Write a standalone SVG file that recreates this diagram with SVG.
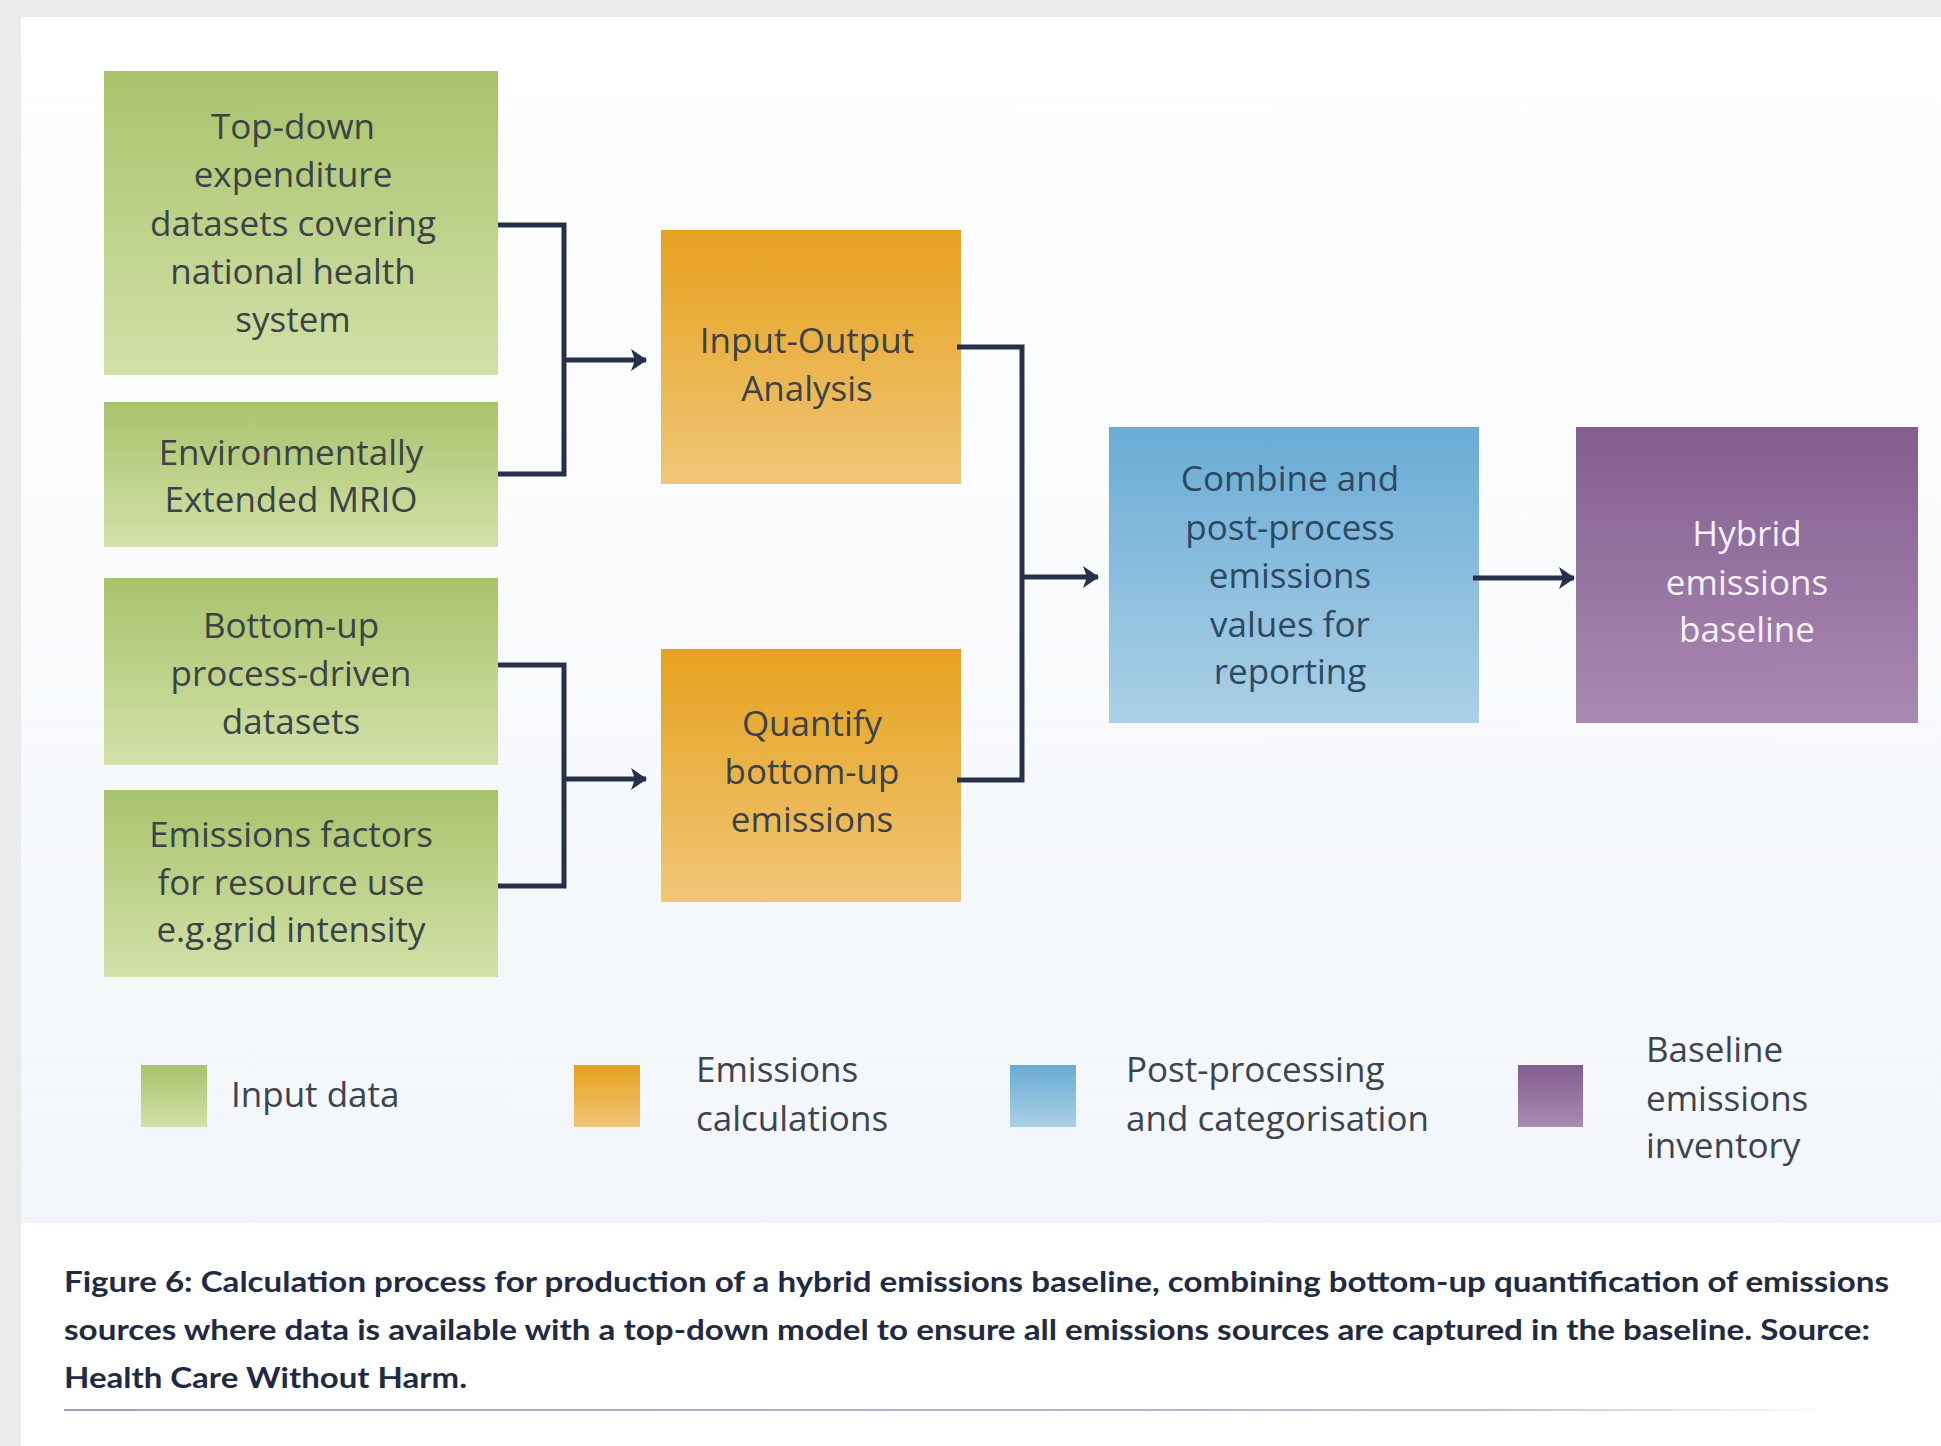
<svg xmlns="http://www.w3.org/2000/svg" width="1941" height="1446" viewBox="0 0 1941 1446">
  <defs>
    <linearGradient id="gGreen" x1="0" y1="0" x2="0" y2="1">
      <stop offset="0" stop-color="#a8c36c"/>
      <stop offset="1" stop-color="#d3e0a8"/>
    </linearGradient>
    <linearGradient id="gOrange" x1="0" y1="0" x2="0" y2="1">
      <stop offset="0" stop-color="#e6a11e"/>
      <stop offset="1" stop-color="#efc677"/>
    </linearGradient>
    <linearGradient id="gBlue" x1="0" y1="0" x2="0" y2="1">
      <stop offset="0" stop-color="#69acd5"/>
      <stop offset="1" stop-color="#abd0e6"/>
    </linearGradient>
    <linearGradient id="gPurple" x1="0" y1="0" x2="0" y2="1">
      <stop offset="0" stop-color="#845d91"/>
      <stop offset="1" stop-color="#a98ab2"/>
    </linearGradient>
    <linearGradient id="gPanel" x1="0" y1="0" x2="0" y2="1">
      <stop offset="0" stop-color="#ffffff"/>
      <stop offset="1" stop-color="#f2f6fa"/>
    </linearGradient>
    <linearGradient id="gRule" x1="0" y1="0" x2="1" y2="0">
      <stop offset="0" stop-color="#9aa6bc"/>
      <stop offset="0.8" stop-color="#b8c1d2"/>
      <stop offset="1" stop-color="#ffffff"/>
    </linearGradient>
    <!-- notched arrowhead, tip sits on the path end -->
    <marker id="arrow" viewBox="0 0 16 22" refX="15" refY="11" markerWidth="16" markerHeight="22" orient="auto" markerUnits="userSpaceOnUse">
      <path d="M0,0 L16,11 L0,22 L4,11 Z" fill="#27304a"/>
    </marker>
  </defs>
  <style>
    .box text { font-family: "Open Sans", "Liberation Sans", sans-serif; font-size: 35px; text-anchor: middle; dominant-baseline: central; }
    .dark text { fill: #3b4347; }
    .navy text { fill: #2e4862; }
    .light text { fill: #f6f0f7; }
    .conn { fill: none; stroke: #27304a; stroke-width: 5; }
    .legend text { font-family: "Open Sans", "Liberation Sans", sans-serif; font-size: 35px; fill: #3d4450; dominant-baseline: central; }
    .caption { font-family: "Lato", "Liberation Sans", sans-serif; font-size: 29px; font-weight: bold; fill: #1f2a44; }
  </style>

  <!-- page backdrop and card -->
  <rect x="0" y="0" width="1941" height="1446" fill="#ebebeb"/>
  <rect x="21" y="17" width="1920" height="1429" fill="#ffffff"/>
  <rect x="21" y="17" width="1920" height="1206" fill="url(#gPanel)"/>

  <!-- input data nodes -->
  <g id="node-topdown" class="box dark">
    <rect x="104" y="71" width="394" height="304" fill="url(#gGreen)"/>
    <text x="293" y="125">Top-down</text>
    <text x="293" y="173">expenditure</text>
    <text x="293" y="222">datasets covering</text>
    <text x="293" y="270">national health</text>
    <text x="293" y="318">system</text>
  </g>
  <g id="node-mrio" class="box dark">
    <rect x="104" y="402" width="394" height="145" fill="url(#gGreen)"/>
    <text x="291" y="451">Environmentally</text>
    <text x="291" y="498">Extended MRIO</text>
  </g>
  <g id="node-bottomup" class="box dark">
    <rect x="104" y="578" width="394" height="187" fill="url(#gGreen)"/>
    <text x="291" y="624">Bottom-up</text>
    <text x="291" y="672">process-driven</text>
    <text x="291" y="720">datasets</text>
  </g>
  <g id="node-factors" class="box dark">
    <rect x="104" y="790" width="394" height="187" fill="url(#gGreen)"/>
    <text x="291" y="833">Emissions factors</text>
    <text x="291" y="881">for resource use</text>
    <text x="291" y="928">e.g.grid intensity</text>
  </g>

  <!-- calculation nodes -->
  <g id="node-io" class="box dark">
    <rect x="661" y="230" width="300" height="254" fill="url(#gOrange)"/>
    <text x="807" y="339">Input-Output</text>
    <text x="807" y="387">Analysis</text>
  </g>
  <g id="node-quantify" class="box dark">
    <rect x="661" y="649" width="300" height="253" fill="url(#gOrange)"/>
    <text x="812" y="722">Quantify</text>
    <text x="812" y="770">bottom-up</text>
    <text x="812" y="818">emissions</text>
  </g>

  <!-- post-processing node -->
  <g id="node-combine" class="box navy">
    <rect x="1109" y="427" width="370" height="296" fill="url(#gBlue)"/>
    <text x="1290" y="477">Combine and</text>
    <text x="1290" y="526">post-process</text>
    <text x="1290" y="574">emissions</text>
    <text x="1290" y="623">values for</text>
    <text x="1290" y="670">reporting</text>
  </g>

  <!-- baseline node -->
  <g id="node-baseline" class="box light">
    <rect x="1576" y="427" width="342" height="296" fill="url(#gPurple)"/>
    <text x="1747" y="532">Hybrid</text>
    <text x="1747" y="581">emissions</text>
    <text x="1747" y="628">baseline</text>
  </g>

  <!-- connectors -->
  <g id="connectors">
    <path class="conn" d="M498,225 H564 V474 H498"/>
    <path class="conn" d="M564,360 H646" marker-end="url(#arrow)"/>
    <path class="conn" d="M498,665 H564 V886 H498"/>
    <path class="conn" d="M564,779 H646" marker-end="url(#arrow)"/>
    <path class="conn" d="M957,347 H1022 V780 H957"/>
    <path class="conn" d="M1022,577 H1098" marker-end="url(#arrow)"/>
    <path class="conn" d="M1473,578 H1574" marker-end="url(#arrow)"/>
  </g>

  <!-- legend -->
  <g id="legend" class="legend">
    <rect x="141" y="1065" width="66" height="62" fill="url(#gGreen)"/>
    <text x="231" y="1093">Input data</text>
    <rect x="574" y="1065" width="66" height="62" fill="url(#gOrange)"/>
    <text x="696" y="1068">Emissions</text>
    <text x="696" y="1117">calculations</text>
    <rect x="1010" y="1065" width="66" height="62" fill="url(#gBlue)"/>
    <text x="1126" y="1068">Post-processing</text>
    <text x="1126" y="1117">and categorisation</text>
    <rect x="1518" y="1065" width="65" height="62" fill="url(#gPurple)"/>
    <text x="1646" y="1048">Baseline</text>
    <text x="1646" y="1097">emissions</text>
    <text x="1646" y="1144">inventory</text>
  </g>

  <!-- caption -->
  <g id="caption">
    <text class="caption" x="64" y="1292" textLength="1825" lengthAdjust="spacingAndGlyphs">Figure 6: Calculation process for production of a hybrid emissions baseline, combining bottom-up quantification of emissions</text>
    <text class="caption" x="64" y="1340" textLength="1806" lengthAdjust="spacingAndGlyphs">sources where data is available with a top-down model to ensure all emissions sources are captured in the baseline. Source:</text>
    <text class="caption" x="64" y="1388" textLength="403" lengthAdjust="spacingAndGlyphs">Health Care Without Harm.</text>
    <rect x="64" y="1409" width="1770" height="2" fill="url(#gRule)"/>
  </g>
</svg>
